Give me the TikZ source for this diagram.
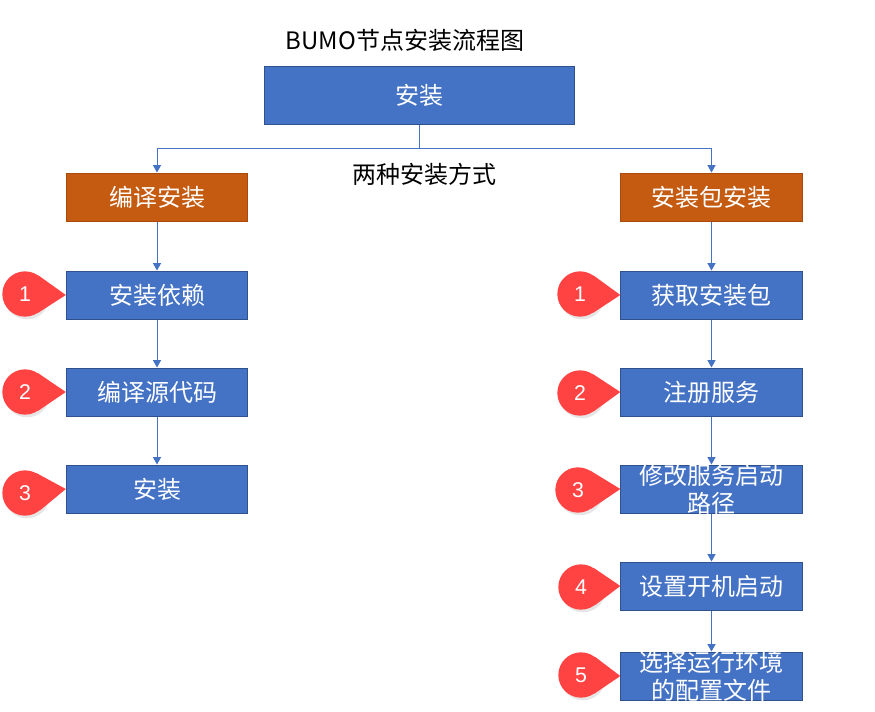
\documentclass[tikz,border=0pt]{standalone}
\usepackage{fontspec}
\usepackage{tikz}
\usetikzlibrary{arrows.meta,calc,shadows}
\newfontfamily\cjk{Noto Sans CJK SC}
\newfontfamily\numfont{Liberation Sans}
\definecolor{boxblue}{HTML}{4472C4}
\definecolor{boxedge}{HTML}{2F528F}
\definecolor{boxorange}{HTML}{C55A11}
\definecolor{orangeedge}{HTML}{A9490C}
\definecolor{markred}{HTML}{FF4343}
\pgfdeclarelayer{edgelayer}
\pgfdeclarelayer{nodelayer}
\pgfsetlayers{edgelayer,nodelayer,main}
\tikzstyle{none}=[inner sep=0pt, font=\cjk\fontsize{18}{20}\selectfont]
\tikzstyle{box}=[rectangle, draw=boxedge, fill=boxblue, text=white, line width=0.75pt, inner sep=0pt, minimum width=136pt, minimum height=36pt, font=\cjk\fontsize{18}{19.5}\selectfont]
\tikzstyle{topbox}=[box, minimum width=232.5pt, minimum height=43.5pt]
\tikzstyle{kind}=[box, draw=orangeedge, fill=boxorange]
\tikzstyle{wrap}=[box, align=center, inner ysep=-4pt]
\tikzstyle{marker}=[circle, fill=markred, text=white, inner sep=0pt, minimum size=34pt, font=\numfont\fontsize{16}{16}\selectfont, drop shadow={opacity=0.2, shadow xshift=1.5pt, shadow yshift=-2pt}]
\tikzstyle{link}=[draw=boxblue, line width=0.75pt, -{Triangle[width=6pt,length=5.5pt]}]

\begin{document}
\begin{tikzpicture}[x=0.75pt, y=-0.75pt]
			\useasboundingbox (0, 0) rectangle (875, 711);
			\begin{pgfonlayer}{nodelayer}
			\node [style=none] (t) at (405, 40) {BUMO节点安装流程图};
			\node [style=topbox] (0) at (419, 95) {安装};
			\node [style=none] (11) at (424, 174) {两种安装方式};
			\node [style=kind] (1) at (157, 197) {编译安装};
			\node [style=kind] (2) at (711.5, 197) {安装包安装};
			\node [style=box] (3) at (157, 295) {安装依赖};
			\node [style=box] (4) at (157, 392) {编译源代码};
			\node [style=box] (5) at (157, 489) {安装};
			\node [style=box] (6) at (711.5, 295) {获取安装包};
			\node [style=box] (7) at (711.5, 392) {注册服务};
			\node [style=wrap] (8) at (711.5, 489) {修改服务启动\\[1.5pt]路径};
			\node [style=box] (9) at (711.5, 586) {设置开机启动};
			\node [style=wrap] (10) at (711.5, 676) {选择运行环境\\[1.5pt]的配置文件};
			\node [style=marker] (m1) at (25, 294) {1};
			\node [style=marker] (m2) at (25, 392) {2};
			\node [style=marker] (m3) at (25, 493) {3};
			\node [style=marker] (m4) at (580, 294) {1};
			\node [style=marker] (m5) at (580, 393) {2};
			\node [style=marker] (m6) at (578, 490) {3};
			\node [style=marker] (m7) at (581, 587) {4};
			\node [style=marker] (m8) at (581, 675) {5};
			\end{pgfonlayer}
			\begin{pgfonlayer}{edgelayer}
			\draw [style=link] (0.south) -- ++(0, 24) -| (1.north);
			\draw [style=link] (0.south) -- ++(0, 24) -| (2.north);
			\draw [style=link] (1) to (3);
			\draw [style=link] (3) to (4);
			\draw [style=link] (4) to (5);
			\draw [style=link] (2) to (6);
			\draw [style=link] (6) to (7);
			\draw [style=link] (7) to (8);
			\draw [style=link] (8) to (9);
			\draw [style=link] (9) to (10);
			\end{pgfonlayer}
			% marker tips
			\foreach \m/\b in {m1/3, m2/4, m3/5, m4/6, m5/7, m6/8, m7/9, m8/10}
				\fill [markred] (tangent cs:node=\m, point={(\b.west)}, solution=1) -- (\b.west) -- (tangent cs:node=\m, point={(\b.west)}, solution=2) -- cycle;
\end{tikzpicture}
\end{document}
